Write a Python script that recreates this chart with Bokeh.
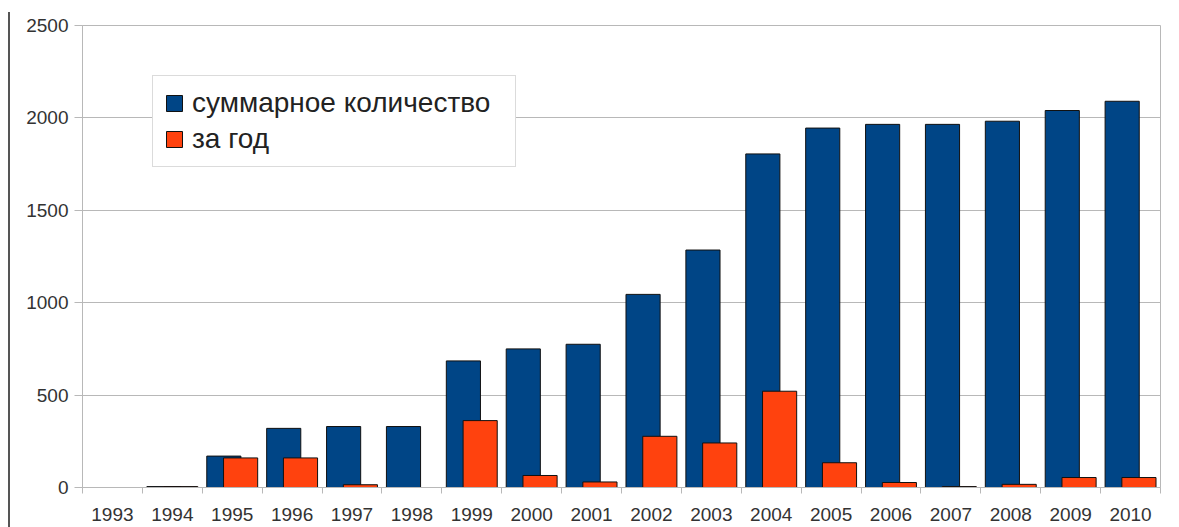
import numpy as np
from bokeh.plotting import figure
from bokeh.models import (ColumnDataSource, FixedTicker, CustomJSTickFormatter,
                          Legend, LegendItem, CDSView, BooleanFilter, Range1d)
from bokeh.transform import dodge
from bokeh.embed import file_html
from bokeh.resources import INLINE

# ---- data ----
years = ["1993", "1994", "1995", "1996", "1997", "1998", "1999", "2000", "2001",
         "2002", "2003", "2004", "2005", "2006", "2007", "2008", "2009", "2010"]
total = [0, 5, 170, 320, 330, 330, 685, 750, 775, 1045, 1285, 1805, 1945, 1965,
         1965, 1982, 2040, 2090]
per_year = [0, 5, 160, 160, 15, 0, 362, 65, 30, 277, 241, 521, 134, 27, 5, 17, 54, 54]
series_names = ["суммарное количество", "за год"]
y_ticks = [0, 500, 1000, 1500, 2000, 2500]

BLUE = "#004586"
ORANGE = "#ff420e"
GRID = "#b8b8b8"
TEXT = "#333333"
FONT = "Liberation Sans"

n = len(years)
src = ColumnDataSource(dict(
    x=list(np.arange(n) + 0.5),
    total=total,
    per_year=per_year,
))

p = figure(width=1171, height=527, output_backend="svg", toolbar_location=None,
           x_range=Range1d(0, n), y_range=Range1d(0, 2500),
           min_border_left=82, min_border_right=11, min_border_top=25,
           min_border_bottom=40)
p.background_fill_color = "white"
p.border_fill_alpha = 0
# dark edge line at the far left of the picture, drawn as the element's background
p.styles = {"background": "linear-gradient(#555555, #555555) no-repeat 8px 12px / 2px 515px, #ffffff"}
p.outline_line_color = GRID
p.outline_line_width = 1

view_t = CDSView(filter=BooleanFilter([v > 0 for v in total]))
view_y = CDSView(filter=BooleanFilter([v > 0 for v in per_year]))

r1 = p.vbar(x=dodge("x", -0.14), top="total", width=0.57, source=src, view=view_t,
            fill_color=BLUE, line_color="#111111", line_width=1)
r2 = p.vbar(x=dodge("x", 0.14), top="per_year", width=0.57, source=src, view=view_y,
            fill_color=ORANGE, line_color="#111111", line_width=1)

# x axis: labels at centres, small ticks at category boundaries
xa = p.xaxis[0]
xa.ticker = FixedTicker(ticks=list(np.arange(n) + 0.5), minor_ticks=list(range(n + 1)))
xa.formatter = CustomJSTickFormatter(args=dict(years=years),
                                     code="return years[Math.floor(tick)];")
xa.major_tick_line_color = None
xa.major_tick_out = 0
xa.major_tick_in = 0
xa.minor_tick_line_color = GRID
xa.minor_tick_out = 6
xa.minor_tick_in = 0
xa.axis_line_color = GRID
xa.major_label_text_font = FONT
xa.major_label_text_font_size = "19px"
xa.major_label_text_color = TEXT
xa.major_label_standoff = 14

ya = p.yaxis[0]
ya.ticker = FixedTicker(ticks=y_ticks)
ya.major_tick_line_color = GRID
ya.major_tick_out = 8
ya.major_tick_in = 0
ya.minor_tick_line_color = None
ya.axis_line_color = GRID
ya.major_label_text_font = FONT
ya.major_label_text_font_size = "19px"
ya.major_label_text_color = TEXT
ya.major_label_standoff = 6

p.xgrid.grid_line_color = None
p.ygrid.grid_line_color = GRID
p.ygrid.ticker = FixedTicker(ticks=y_ticks)

legend = Legend(items=[LegendItem(label=series_names[0], renderers=[r1]),
                       LegendItem(label=series_names[1], renderers=[r2])],
                location=(70, 320))
legend.label_text_font = FONT
legend.label_text_font_size = "28px"
legend.label_text_color = "#222222"
legend.glyph_width = 20
legend.glyph_height = 20
legend.label_standoff = 8
legend.label_width = 312
legend.spacing = 4
legend.padding = 11
legend.margin = 0
legend.border_line_color = GRID
legend.border_line_width = 1
legend.background_fill_alpha = 1
p.add_layout(legend, "center")

open("out.html", "w").write(file_html(p, INLINE))
